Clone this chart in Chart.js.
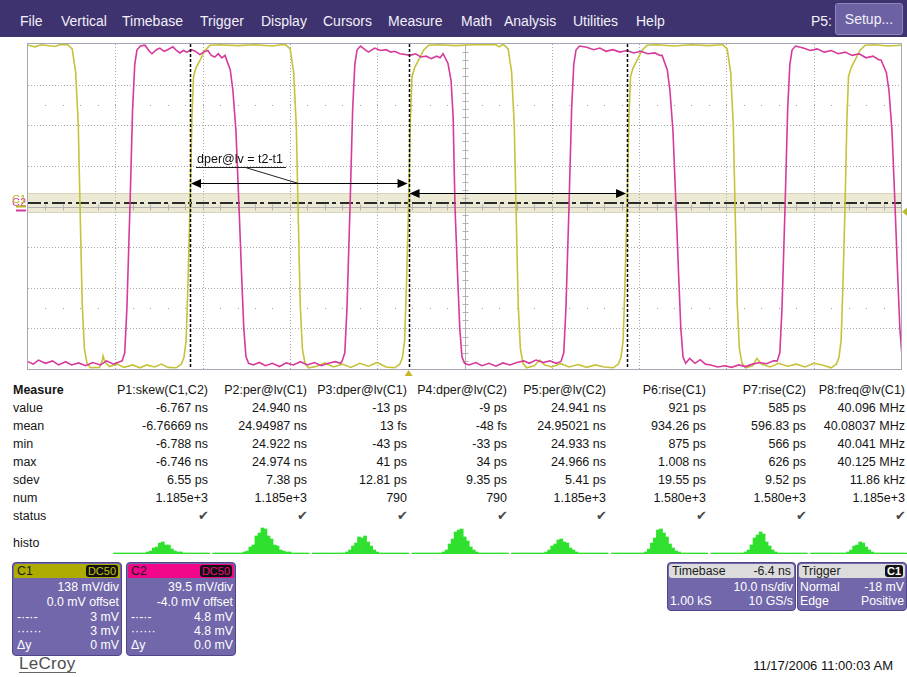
<!DOCTYPE html>
<html lang="en">
<head>
<meta charset="UTF-8">
<title>LeCroy – dper@lv measurement</title>
<style>
  body { margin: 0; width: 907px; height: 677px; position: relative; overflow: hidden; background: #fff;
         font-family: Arial, "Liberation Sans", sans-serif; color: #151515; }
  .menu { position: absolute; left: 0; top: 0; width: 907px; height: 37px; background: #3e336e; }
  .menu span { position: absolute; top: 13px; line-height: 16px; font-size: 14px; color: #f2f0fa; white-space: nowrap; }
  .setup { position: absolute; left: 835px; top: 3px; width: 66px; height: 30px; background: #6c61a2;
           border: 1px solid #8d84c0; border-radius: 3px; color: #f2f0fa; font-size: 14px; line-height: 30px; text-align: center; }
  #scopeWrap { position: absolute; left: 0; top: 40px; width: 907px; height: 340px; }
  #histoWrap { position: absolute; left: 113px; top: 524px; width: 794px; height: 30px; }
  .cell { position: absolute; height: 18px; line-height: 18px; font-size: 12.5px; white-space: nowrap; }
  .chk { font-family: "DejaVu Sans", sans-serif; font-size: 13px; color: #484848; }
  .box { position: absolute; background: #7167aa; border: 1px solid #4f4589; border-radius: 4px; overflow: hidden; color: #fff; font-size: 12.3px; }
  .box .hd { position: absolute; left: 1px; right: 1px; top: 1px; height: 14px; line-height: 14px; border-radius: 3px 3px 0 0; color: #1a1a1a; }
  .box .row { position: absolute; left: 4px; right: 2px; height: 15px; line-height: 15px; white-space: nowrap; }
  .box .r { position: absolute; right: 0; }
  .badge { position: absolute; right: 2px; top: 1px; height: 12px; line-height: 12px; padding: 0 2px; background: #111; border-radius: 3px; font-size: 11px; }
  .logo { position: absolute; left: 19px; top: 656px; font-size: 17px; color: #4e4e4e; border-bottom: 1.5px solid #666; line-height: 16px; letter-spacing: 0.3px; }
  .date { position: absolute; right: 14px; top: 657px; font-size: 13px; line-height: 18px; color: #111; }
</style>
<script src="https://cdn.jsdelivr.net/npm/chart.js"></script>
</head>
<body>
<div class="menu">
  <span style="left:20px">File</span>
  <span style="left:61px">Vertical</span>
  <span style="left:122px">Timebase</span>
  <span style="left:200px">Trigger</span>
  <span style="left:261px">Display</span>
  <span style="left:323px">Cursors</span>
  <span style="left:388px">Measure</span>
  <span style="left:461px">Math</span>
  <span style="left:504px">Analysis</span>
  <span style="left:573px">Utilities</span>
  <span style="left:636px">Help</span>
  <span style="left:811px">P5:</span>
  <div class="setup">Setup...</div>
</div>

<div id="scopeWrap"><canvas id="scope" width="907" height="340"></canvas></div>
<div id="table"></div>
<div id="histoWrap"><canvas id="histo" width="794" height="30"></canvas></div>

<div class="box" style="left:12px; top:562px; width:108px; height:92px;">
  <div class="hd" style="background:#aeac00;"><span style="padding-left:3px">C1</span><span class="badge" style="color:#c8c600">DC50</span></div>
  <div class="row" style="top:17px"><span class="r">138 mV/div</span></div>
  <div class="row" style="top:32px"><span class="r">0.0 mV offset</span></div>
  <div class="row" style="top:47px">-·-·-<span class="r">3 mV</span></div>
  <div class="row" style="top:61px">······<span class="r">3 mV</span></div>
  <div class="row" style="top:75px">Δy<span class="r">0 mV</span></div>
</div>
<div class="box" style="left:126px; top:562px; width:108px; height:92px;">
  <div class="hd" style="background:#f2078b;"><span style="padding-left:3px">C2</span><span class="badge" style="color:#f2078b">DC50</span></div>
  <div class="row" style="top:17px"><span class="r">39.5 mV/div</span></div>
  <div class="row" style="top:32px"><span class="r">-4.0 mV offset</span></div>
  <div class="row" style="top:47px">-·-·-<span class="r">4.8 mV</span></div>
  <div class="row" style="top:61px">······<span class="r">4.8 mV</span></div>
  <div class="row" style="top:75px">Δy<span class="r">0.0 mV</span></div>
</div>

<div class="box" style="left:667px; top:562px; width:127px; height:47px;">
  <div class="hd" style="background:#dcdcdc; border-radius:3px;"><span style="padding-left:3px">Timebase</span><span class="r" style="right:3px">-6.4 ns</span></div>
  <div class="row" style="top:17px"><span class="r">10.0 ns/div</span></div>
  <div class="row" style="top:31px; left:2px">1.00 kS<span class="r">10 GS/s</span></div>
</div>
<div class="box" style="left:797px; top:562px; width:108px; height:47px;">
  <div class="hd" style="background:#dcdcdc; border-radius:3px;"><span style="padding-left:3px">Trigger</span><span class="badge" style="color:#fff; font-weight:bold">C1</span></div>
  <div class="row" style="top:17px; left:2px">Normal<span class="r">-18 mV</span></div>
  <div class="row" style="top:31px; left:2px">Edge<span class="r">Positive</span></div>
</div>

<div class="logo">LeCroy</div>
<div class="date">11/17/2006 11:00:03 AM</div>

<script>
// ---- waveform data: [time ns, level div] ----
const c1Trace = [
  [0, 3.97], [0.8, 3.93], [1.5, 3.98], [3.1, 3.94], [3.6, 3.98],
  [4.56, 3.98], [5.06, 3.88], [5.46, 3.3], [5.76, 2.0], [5.96, 0], [6.21, -2.4], [6.46, -3.5], [6.76, -3.86], [7.16, -3.97],
  [8.2, -3.96], [8.5, -3.8], [8.6, -3.68], [8.8, -3.82], [9.3, -3.94], [10.2, -3.88], [11.0, -3.96], [12.0, -3.9],
  [12.8, -3.97], [13.6, -3.9], [14.5, -3.95], [15.3, -3.88], [16.0, -3.96],
  [16.96, -3.97], [17.56, -3.88], [17.86, -3.72], [18.11, -3.3], [18.31, -2.0], [18.56, 0], [18.78, 2.2], [18.96, 3.2],
  [19.26, 3.42], [19.71, 3.6], [20.26, 3.84], [20.86, 3.97],
  [22.0, 3.98], [24.0, 3.96], [26.0, 3.98], [28.0, 3.95], [29.0, 3.98],
  [29.53, 3.98], [30.03, 3.88], [30.43, 3.3], [30.73, 2.0], [30.93, 0], [31.18, -2.4], [31.43, -3.5], [31.73, -3.86], [32.13, -3.97],
  [33.0, -3.94], [34.0, -3.85], [35.0, -3.95], [36.0, -3.88], [37.0, -3.96], [38.0, -3.86], [39.0, -3.93], [40.0, -3.84], [41.0, -3.95],
  [41.99, -3.97], [42.59, -3.88], [42.89, -3.72], [43.14, -3.3], [43.34, -2.0], [43.59, 0], [43.81, 2.2], [43.99, 3.2],
  [44.29, 3.42], [44.74, 3.6], [45.29, 3.84], [45.89, 3.97],
  [47.0, 3.98], [49.0, 3.96], [51.0, 3.98], [53.6, 3.98], [54.0, 3.93], [54.3, 3.98],
  [54.5, 3.98], [55.0, 3.88], [55.4, 3.3], [55.7, 2.0], [55.9, 0], [56.15, -2.4], [56.4, -3.5], [56.7, -3.86], [57.1, -3.97],
  [58.0, -3.92], [58.6, -3.78], [59.2, -3.9], [60.0, -3.95], [61.0, -3.87], [62.0, -3.95], [63.0, -3.89], [64.0, -3.96], [65.0, -3.9], [66.0, -3.95],
  [67.02, -3.97], [67.62, -3.88], [67.92, -3.72], [68.17, -3.3], [68.37, -2.0], [68.62, 0], [68.84, 2.2], [69.02, 3.2],
  [69.32, 3.42], [69.77, 3.6], [70.32, 3.84], [70.92, 3.97],
  [72.0, 3.98], [74.0, 3.95], [76.0, 3.98], [78.0, 3.96], [79.3, 3.98],
  [79.59, 3.98], [80.09, 3.88], [80.49, 3.3], [80.79, 2.0], [80.99, 0], [81.24, -2.4], [81.49, -3.5], [81.79, -3.86], [82.19, -3.97],
  [83.0, -3.92], [83.5, -3.74], [84.0, -3.88], [85.0, -3.95], [86.0, -3.86], [87.0, -3.93], [88.0, -3.88], [89.0, -3.95], [90.0, -3.86], [91.0, -3.9],
  [91.99, -3.97], [92.59, -3.88], [92.89, -3.72], [93.14, -3.3], [93.34, -2.0], [93.59, 0], [93.81, 2.2], [93.99, 3.2],
  [94.29, 3.42], [94.74, 3.6], [95.29, 3.84], [95.89, 3.97],
  [97.0, 3.98], [98.5, 3.95], [100, 3.97]
];

const c2Trace = [
  [0, -3.82], [0.6, -3.88], [1.2, -3.78], [2.0, -3.86], [2.8, -3.8], [3.5, -3.9], [4.3, -3.82], [5.0, -3.9], [5.8, -3.85],
  [6.6, -3.92], [7.4, -3.84], [8.3, -3.9], [9.0, -3.8], [9.8, -3.88], [10.5, -3.82],
  [10.78, -3.8], [11.08, -3.6], [11.33, -2.5], [11.68, 0], [11.98, 2.4], [12.23, 3.5], [12.48, 3.85], [12.88, 3.95],
  [13.4, 3.97], [13.9, 3.82], [14.2, 3.76], [14.7, 3.86], [15.1, 3.9], [15.6, 3.82], [16.0, 3.86], [16.6, 3.93], [17.0, 3.84],
  [17.4, 3.78], [17.8, 3.84], [18.2, 3.8], [18.7, 3.86], [19.1, 3.83], [19.7, 3.74], [20.1, 3.8], [20.6, 3.84], [21.0, 3.72],
  [21.4, 3.68], [21.8, 3.76], [22.2, 3.66],
  [22.57, 3.72], [23.17, 3.36], [23.47, 2.86], [23.82, 1.86], [24.17, 0], [24.47, -1.7], [24.72, -3.0], [24.97, -3.7], [25.27, -3.86],
  [25.8, -3.9], [26.5, -3.84], [27.2, -3.92], [28.0, -3.86], [28.8, -3.94], [29.6, -3.85], [30.4, -3.9], [31.2, -3.82],
  [32.0, -3.9], [32.8, -3.84], [33.6, -3.92], [34.4, -3.86], [35.2, -3.82], [35.8, -3.86],
  [35.99, -3.8], [36.29, -3.6], [36.54, -2.5], [36.89, 0], [37.19, 2.4], [37.44, 3.5], [37.69, 3.85], [38.09, 3.95],
  [38.6, 3.86], [39.0, 3.8], [39.7, 3.9], [40.4, 3.84], [41.0, 3.86], [41.6, 3.8], [42.0, 3.82], [42.6, 3.76], [43.2, 3.74],
  [43.8, 3.72], [44.4, 3.76], [45.0, 3.68], [45.6, 3.7], [46.2, 3.64], [46.8, 3.7], [47.2, 3.66], [47.55, 3.76],
  [48.11, 3.52], [48.46, 3.1], [48.7, 2.2], [48.91, 0], [49.21, -1.7], [49.46, -3.0], [49.71, -3.7], [50.01, -3.86],
  [50.5, -3.9], [51.3, -3.84], [52.0, -3.92], [52.8, -3.86], [53.6, -3.93], [54.4, -3.85], [55.2, -3.9], [56.0, -3.84],
  [56.8, -3.8], [57.4, -3.86], [58.2, -3.78], [59.0, -3.84], [59.8, -3.8], [60.5, -3.86], [61.0, -3.82],
  [61.07, -3.8], [61.37, -3.6], [61.62, -2.5], [61.97, 0], [62.27, 2.4], [62.52, 3.5], [62.77, 3.85], [63.17, 3.95],
  [64.0, 3.92], [64.8, 3.86], [65.5, 3.9], [66.2, 3.82], [67.0, 3.86], [67.8, 3.8], [68.6, 3.84], [69.4, 3.78], [70.2, 3.82],
  [71.0, 3.76], [71.8, 3.78], [72.4, 3.72],
  [72.63, 3.72], [73.23, 3.36], [73.53, 2.86], [73.88, 1.86], [74.23, 0], [74.53, -1.7], [74.78, -3.0], [75.03, -3.7], [75.33, -3.86],
  [75.8, -3.74], [76.4, -3.86], [77.0, -3.77], [77.6, -3.88], [78.2, -3.9], [79.0, -3.95], [79.8, -3.92], [80.6, -3.96],
  [81.4, -3.9], [82.2, -3.94], [83.0, -3.88], [83.8, -3.84], [84.6, -3.87], [85.4, -3.8],
  [85.82, -3.8], [86.12, -3.6], [86.37, -2.5], [86.72, 0], [87.02, 2.4], [87.27, 3.5], [87.52, 3.85], [87.92, 3.95],
  [88.8, 3.9], [89.6, 3.84], [90.4, 3.88], [91.2, 3.8], [92.0, 3.84], [92.8, 3.76], [93.6, 3.8], [94.4, 3.72], [95.2, 3.76],
  [96.0, 3.66], [96.8, 3.7], [97.4, 3.62],
  [97.72, 3.6], [98.32, 3.3], [98.62, 2.86], [98.97, 1.86], [99.32, 0], [99.62, -1.7], [99.87, -3.0], [100.12, -3.7]
];

// cursor times (ns) and arrow heights (div)
const cursorTimes = [18.56, 43.59, 68.62];
const arrowLevels = [0.57, 0.33];
const levelDiv = 0.08;          // dper@lv level line
const levelBand = 0.25;         // hysteresis band half-width
const triggerLevelMv = -18, c1MvPerDiv = 138;
const timebaseDelay = -6.4;     // ns

// ---- measurement table ----
const paramNames = ['P1:skew(C1,C2)', 'P2:per@lv(C1)', 'P3:dper@lv(C1)', 'P4:dper@lv(C2)', 'P5:per@lv(C2)', 'P6:rise(C1)', 'P7:rise(C2)', 'P8:freq@lv(C1)'];
const statNames = ['value', 'mean', 'min', 'max', 'sdev', 'num', 'status'];
const valueRow = ['-6.767 ns', '24.940 ns', '-13 ps', '-9 ps', '24.941 ns', '921 ps', '585 ps', '40.096 MHz'];
const meanRow = ['-6.76669 ns', '24.94987 ns', '13 fs', '-48 fs', '24.95021 ns', '934.26 ps', '596.83 ps', '40.08037 MHz'];
const minRow = ['-6.788 ns', '24.922 ns', '-43 ps', '-33 ps', '24.933 ns', '875 ps', '566 ps', '40.041 MHz'];
const maxRow = ['-6.746 ns', '24.974 ns', '41 ps', '34 ps', '24.966 ns', '1.008 ns', '626 ps', '40.125 MHz'];
const sdevRow = ['6.55 ps', '7.38 ps', '12.81 ps', '9.35 ps', '5.41 ps', '19.55 ps', '9.52 ps', '11.86 kHz'];
const numRow = ['1.185e+3', '1.185e+3', '790', '790', '1.185e+3', '1.580e+3', '1.580e+3', '1.185e+3'];

// ---- histograms (bar heights) ----
const histo1 = [1,1,1,1,1,1,1,1,1,1,1,2,3,6,7,11,12,9,9,5,3,2,2,1,1,1,1,1,1,1,1,1];
const histo2 = [1,1,1,1,1,1,1,1,1,1,2,3,7,9,18,21,26,25,18,15,9,8,4,3,2,2,1,1,1,1,1,1];
const histo3 = [1,1,1,1,1,1,1,1,1,1,1,2,4,8,11,17,16,18,12,8,4,2,1,1,1,1,1,1,1,1,1,1];
const histo4 = [1,1,1,1,1,1,1,1,1,1,2,4,10,15,22,24,25,17,13,7,4,2,1,1,1,1,1,1,1,1,1,1];
const histo5 = [1,1,1,1,1,1,1,1,1,1,1,2,4,8,10,14,15,12,11,6,4,2,1,1,1,1,1,1,1,1,1,1];
const histo6 = [1,1,1,1,1,1,1,1,1,1,1,2,5,11,16,24,25,21,17,10,6,3,2,1,1,1,1,1,1,1,1,1];
const histo7 = [1,1,1,1,1,1,1,1,1,1,1,2,4,9,16,19,22,20,12,8,4,2,1,1,1,1,1,1,1,1,1,1];
const histo8 = [1,1,1,1,1,1,1,1,1,1,1,1,2,4,8,9,12,11,7,4,2,1,1,1,1,1,1,1,1,1,1,1];

const colRight = [208, 307, 407, 507, 606, 706, 806, 905];

// build table
(function () {
  const t = document.getElementById('table');
  function cell(text, x, cy, right, cls) {
    const d = document.createElement('div');
    d.className = 'cell' + (cls ? ' ' + cls : '');
    d.textContent = text;
    d.style.top = (cy - 9) + 'px';
    if (right) d.style.right = (907 - x) + 'px'; else d.style.left = x + 'px';
    t.appendChild(d);
    return d;
  }
  cell('Measure', 13, 390, false).style.fontWeight = 'bold';
  paramNames.forEach((p, i) => cell(p, colRight[i], 390, true));
  const rows = [valueRow, meanRow, minRow, maxRow, sdevRow, numRow];
  statNames.forEach((s, r) => {
    const cy = 408 + 18 * r;
    cell(s, 13, cy, false);
    paramNames.forEach((p, i) => {
      if (r < rows.length) cell(rows[r][i], colRight[i], cy, true);
      else cell('✔', colRight[i] + 1, cy, true, 'chk');
    });
  });
  cell('histo', 13, 543, false);
})();

function hline(ctx, x0, x1, y) { ctx.beginPath(); ctx.moveTo(x0, y); ctx.lineTo(x1, y); ctx.stroke(); }
function vline(ctx, x, y0, y1) { ctx.beginPath(); ctx.moveTo(x, y0); ctx.lineTo(x, y1); ctx.stroke(); }
function tri(ctx, pts) { ctx.beginPath(); ctx.moveTo(pts[0], pts[1]); ctx.lineTo(pts[2], pts[3]); ctx.lineTo(pts[4], pts[5]); ctx.closePath(); ctx.fill(); }

const scopeDecor = {
  id: 'scopeDecor',
  beforeDatasetsDraw(chart) {
    const { ctx, chartArea: a, scales: { x, y } } = chart;
    ctx.save();
    ctx.fillStyle = '#fff';
    ctx.fillRect(a.left, a.top, a.width, a.height);
    // level band
    const bt = Math.round(y.getPixelForValue(levelDiv + levelBand)), bb = Math.round(y.getPixelForValue(levelDiv - levelBand));
    ctx.fillStyle = '#ece9d4';
    ctx.fillRect(a.left, bt, a.width, bb - bt);
    ctx.strokeStyle = '#d9d4b6'; ctx.lineWidth = 1;
    hline(ctx, a.left, a.right, bt + 0.5); hline(ctx, a.left, a.right, bb - 0.5);
    // dotted grid
    ctx.strokeStyle = '#a8a8a8'; ctx.setLineDash([1, 2]);
    for (let d = 1; d < 10; d++) {
      if (d === 5) continue;
      const px = Math.round(x.getPixelForValue(d * 10)) + 0.5;
      vline(ctx, px, a.top, a.bottom);
    }
    for (let d = -3; d <= 3; d++) {
      if (d === 0) continue;
      const py = Math.round(y.getPixelForValue(d)) + 0.5;
      hline(ctx, a.left, a.right, py);
    }
    ctx.setLineDash([]);
    // dot rows at +/-2.5 div
    ctx.fillStyle = '#a0a0a0';
    [2.5, -2.5].forEach(v => {
      const py = Math.round(y.getPixelForValue(v));
      for (let k = 1; k < 50; k++) ctx.fillRect(Math.round(x.getPixelForValue(k * 2)), py, 1, 1);
    });
    // centre axes with ticks
    ctx.strokeStyle = '#b2b2b2';
    const cx = Math.round(x.getPixelForValue(50)) + 0.5, cy = Math.round(y.getPixelForValue(0)) + 0.5;
    vline(ctx, cx, a.top, a.bottom);
    hline(ctx, a.left, a.right, cy);
    for (let k = 1; k < 50; k++) {
      const px = Math.round(x.getPixelForValue(k * 2)) + 0.5;
      vline(ctx, px, cy - 3, cy + 3);
    }
    for (let k = 1; k < 40; k++) {
      const py = Math.round(y.getPixelForValue(-4 + k * 0.2)) + 0.5;
      hline(ctx, cx - 3, cx + 3, py);
    }
    // level line (dash-dot)
    ctx.strokeStyle = '#2a2a2a'; ctx.lineWidth = 2; ctx.setLineDash([13, 3, 4, 4]);
    hline(ctx, a.left, a.right, Math.round(y.getPixelForValue(levelDiv)));
    ctx.restore();
  },
  afterDatasetsDraw(chart) {
    const { ctx, chartArea: a, scales: { x, y } } = chart;
    ctx.save();
    // cursors
    ctx.strokeStyle = '#000'; ctx.lineWidth = 1.5; ctx.setLineDash([3, 2]);
    cursorTimes.forEach(t => vline(ctx, Math.round(x.getPixelForValue(t)) + 0.5, a.top, a.bottom));
    ctx.setLineDash([]);
    // arrows
    ctx.fillStyle = '#000'; ctx.lineWidth = 1;
    arrowLevels.forEach((lv, i) => {
      const x0 = x.getPixelForValue(cursorTimes[i]), x1 = x.getPixelForValue(cursorTimes[i + 1]);
      const py = Math.round(y.getPixelForValue(lv)) + 0.5;
      hline(ctx, x0 + 2, x1 - 2, py);
      tri(ctx, [x0 + 1, py, x0 + 11, py - 4.5, x0 + 11, py + 4.5]);
      tri(ctx, [x1 - 1, py, x1 - 11, py - 4.5, x1 - 11, py + 4.5]);
    });
    // label
    const lx = x.getPixelForValue(cursorTimes[0]), ly = y.getPixelForValue(arrowLevels[0]);
    ctx.font = '12.5px Arial, "Liberation Sans", sans-serif';
    ctx.fillStyle = '#111'; ctx.textBaseline = 'alphabetic';
    ctx.fillText('dper@lv = t2-t1', lx + 7, ly - 20);
    ctx.strokeStyle = '#222';
    hline(ctx, lx + 6, lx + 96, Math.round(ly - 16) + 0.5);
    ctx.beginPath(); ctx.moveTo(lx + 55, ly - 16); ctx.lineTo(lx + 108, ly); ctx.stroke();
    // channel markers on the left
    const cy = y.getPixelForValue(0);
    ctx.font = '11px Arial, "Liberation Sans", sans-serif';
    ctx.fillStyle = '#d63a9a'; ctx.fillText('C2', 12, cy - 1);
    ctx.fillStyle = '#b8b62a'; ctx.fillText('C1', 12, cy - 4);
    ctx.fillRect(16, cy - 1, 10, 2);
    ctx.fillStyle = '#d63a9a'; ctx.fillRect(16, cy + 3, 10, 2);
    // trigger level marker (right) and trigger position (bottom)
    const trigY = y.getPixelForValue(triggerLevelMv / c1MvPerDiv);
    ctx.fillStyle = '#b8b62a';
    tri(ctx, [a.right + 1, trigY, a.right + 6, trigY - 4, a.right + 6, trigY + 4]);
    const trigX = x.getPixelForValue(50 + timebaseDelay);
    ctx.fillStyle = '#c9b52a';
    tri(ctx, [trigX, a.bottom + 1, trigX - 4, a.bottom + 7, trigX + 4, a.bottom + 7]);
    // border
    ctx.strokeStyle = '#a6a6b8'; ctx.lineWidth = 1;
    ctx.strokeRect(a.left - 0.5, a.top - 0.5, a.width + 1, a.height + 1);
    ctx.restore();
  }
};

new Chart(document.getElementById('scope'), {
  type: 'scatter',
  data: {
    datasets: [
      { label: 'C2', data: c2Trace.map(p => ({ x: p[0], y: p[1] })), showLine: true, borderColor: '#d63a9a', borderWidth: 1.6, pointRadius: 0, order: 0 },
      { label: 'C1', data: c1Trace.map(p => ({ x: p[0], y: p[1] })), showLine: true, borderColor: '#c4c33a', borderWidth: 1.6, pointRadius: 0, order: 1 }
    ]
  },
  options: {
    responsive: false, animation: false, devicePixelRatio: 1,
    layout: { padding: { left: 28, right: 6, top: 4, bottom: 11 } },
    scales: {
      x: { type: 'linear', min: 0, max: 100, display: false },
      y: { type: 'linear', min: -4, max: 4, display: false }
    },
    plugins: { legend: { display: false }, tooltip: { enabled: false } }
  },
  plugins: [scopeDecor]
});

// histograms in one strip, a null between each
const histos = [histo1, histo2, histo3, histo4, histo5, histo6, histo7, histo8];
const histoData = [];
histos.forEach((h, i) => { if (i) histoData.push(null); histoData.push(...h); });

new Chart(document.getElementById('histo'), {
  type: 'bar',
  data: {
    labels: histoData.map((v, i) => i),
    datasets: [{ data: histoData, backgroundColor: '#2fe02f', borderWidth: 0, barPercentage: 1, categoryPercentage: 1 }]
  },
  options: {
    responsive: false, animation: false, devicePixelRatio: 1,
    layout: { padding: 0 },
    scales: { x: { display: false }, y: { display: false, min: 0, max: 30 } },
    plugins: { legend: { display: false }, tooltip: { enabled: false } }
  }
});
</script>
</body>
</html>
